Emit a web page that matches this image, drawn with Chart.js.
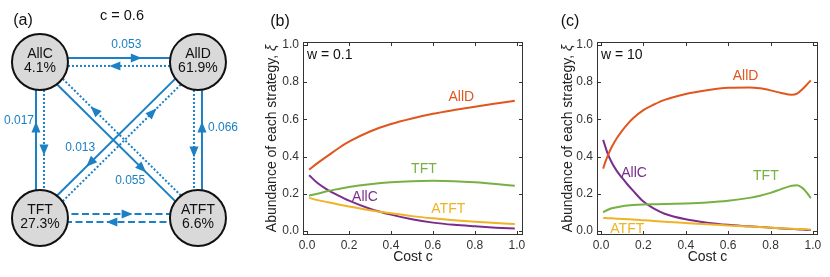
<!DOCTYPE html>
<html>
<head>
<meta charset="utf-8">
<script src="https://cdn.jsdelivr.net/npm/chart.js@4.4.1/dist/chart.umd.min.js"></script>
<style>
    body { margin: 0; width: 830px; height: 277px; background: #fff; position: relative; overflow: hidden; }
    canvas { position: absolute; top: 0; }
</style>
</head>
<body>
<canvas id="networkChart" width="240" height="277" style="left:0"></canvas>
<canvas id="weakChart" width="300" height="277" style="left:230px"></canvas>
<canvas id="strongChart" width="300" height="277" style="left:530px"></canvas>
<script>
const strategies = ['AllC', 'AllD', 'TFT', 'ATFT'];
const seriesColors = ['#7b2d8f', '#e1561f', '#77b043', '#efb326'];
const edgeColor = '#1b80c4';

// (a) stationary abundances at c = 0.6 and transition rates
const shares = ['4.1%', '61.9%', '27.3%', '6.6%'];
const rateLabels = ['0.053', '0.017', '0.066', '0.013', '0.055'];

// (b) w = 0.1
const weakCost = [0.01, 0.05, 0.1, 0.15, 0.2, 0.3, 0.4, 0.5, 0.6, 0.7, 0.8, 0.9, 0.99];
const weakAllC = [0.30, 0.258, 0.22, 0.19, 0.163, 0.12, 0.088, 0.063, 0.045, 0.033, 0.025, 0.018, 0.013];
const weakAllD = [0.33, 0.365, 0.405, 0.445, 0.48, 0.535, 0.575, 0.605, 0.63, 0.65, 0.668, 0.685, 0.70];
const weakTFT = [0.19, 0.20, 0.215, 0.226, 0.236, 0.251, 0.262, 0.268, 0.27, 0.268, 0.262, 0.253, 0.243];
const weakATFT = [0.178, 0.166, 0.155, 0.143, 0.132, 0.112, 0.095, 0.08, 0.068, 0.058, 0.05, 0.043, 0.037];

// (c) w = 10
const strongCost = [0.01, 0.02, 0.03, 0.05, 0.075, 0.1, 0.125, 0.15, 0.2, 0.25, 0.3, 0.4, 0.5, 0.6, 0.7, 0.75, 0.8, 0.85, 0.9, 0.925, 0.95, 0.97, 0.99];
const strongAllC = [0.49, 0.455, 0.42, 0.37, 0.322, 0.285, 0.25, 0.218, 0.158, 0.12, 0.093, 0.063, 0.045, 0.033, 0.025, 0.021, 0.018, 0.014, 0.011, 0.009, 0.008, 0.006, 0.005];
const strongAllD = [0.335, 0.37, 0.40, 0.45, 0.50, 0.54, 0.575, 0.605, 0.65, 0.68, 0.705, 0.737, 0.757, 0.77, 0.772, 0.767, 0.756, 0.742, 0.732, 0.738, 0.762, 0.785, 0.81];
const strongTFT = [0.10, 0.107, 0.113, 0.122, 0.128, 0.133, 0.137, 0.14, 0.143, 0.144, 0.145, 0.148, 0.153, 0.162, 0.178, 0.19, 0.205, 0.225, 0.243, 0.246, 0.232, 0.208, 0.177];
const strongATFT = [0.07, 0.07, 0.069, 0.068, 0.066, 0.065, 0.063, 0.062, 0.058, 0.054, 0.05, 0.043, 0.036, 0.03, 0.024, 0.021, 0.018, 0.015, 0.012, 0.011, 0.01, 0.009, 0.008];

const xTicks = [0, 0.2, 0.4, 0.6, 0.8, 1.0];
const yTicks = [0, 0.2, 0.4, 0.6, 0.8, 1.0];

// where the curve names sit (data units)
const weakLabelX = [0.276, 0.735, 0.557, 0.673];
const weakLabelY = [0.184, 0.722, 0.332, 0.12];
const strongLabelX = [0.156, 0.682, 0.778, 0.124];
const strongLabelY = [0.31, 0.833, 0.297, 0.011];

// network layout: grid column/row of each node, and edges between them
const nodeCol = [0, 1, 0, 1];
const nodeRow = [1, 1, 0, 0];
const nodeRadius = 28;
const edges = [
    { from: 0, to: 1, dash: 'solid', side: 1, t: 0.67, rate: 0, lx: -10, ly: -13 },
    { from: 1, to: 0, dash: 'dotted', side: 1, t: 0.54 },
    { from: 2, to: 0, dash: 'solid', side: 1, t: 0.63, rate: 1, lx: -17, ly: -6 },
    { from: 0, to: 2, dash: 'dotted', side: 1, t: 0.6 },
    { from: 3, to: 1, dash: 'solid', side: -1, t: 0.63, rate: 2, lx: 21, ly: 1 },
    { from: 1, to: 3, dash: 'dotted', side: -1, t: 0.62 },
    { from: 1, to: 2, dash: 'solid', side: -1, t: 0.72, rate: 3, lx: -10, ly: -15 },
    { from: 2, to: 1, dash: 'dotted', side: -1, t: 0.76 },
    { from: 0, to: 3, dash: 'solid', side: -1, t: 0.72, rate: 4, lx: -12, ly: 12 },
    { from: 3, to: 0, dash: 'dotted', side: -1, t: 0.73 },
    { from: 2, to: 3, dash: 'dashed', side: 1, t: 0.58 },
    { from: 3, to: 2, dash: 'dashed', side: 1, t: 0.57 }
];

Chart.defaults.font.family = "'Liberation Sans', Arial, sans-serif";
Chart.defaults.color = '#222';

const dashPatterns = { solid: [], dotted: [2, 2], dashed: [7, 3.5] };

const networkPlugin = {
    id: 'network',
    beforeDatasetsDraw(chart) {
        const { ctx, scales: { x, y } } = chart;
        const centers = nodeCol.map((c, i) => ({ x: x.getPixelForValue(c), y: y.getPixelForValue(nodeRow[i]) }));
        ctx.save();
        ctx.strokeStyle = edgeColor;
        ctx.fillStyle = edgeColor;
        ctx.lineWidth = 2;
        ctx.font = "12px 'Liberation Sans', Arial, sans-serif";
        ctx.textAlign = 'center';
        ctx.textBaseline = 'middle';
        edges.forEach(e => {
            const a = centers[e.from], b = centers[e.to];
            const len = Math.hypot(b.x - a.x, b.y - a.y);
            const ux = (b.x - a.x) / len, uy = (b.y - a.y) / len;
            const nx = uy * e.side * 4, ny = -ux * e.side * 4;
            const sx = a.x + ux * nodeRadius + nx, sy = a.y + uy * nodeRadius + ny;
            const ex = b.x - ux * nodeRadius + nx, ey = b.y - uy * nodeRadius + ny;
            ctx.setLineDash(dashPatterns[e.dash]);
            ctx.beginPath();
            ctx.moveTo(a.x + nx, a.y + ny);
            ctx.lineTo(b.x + nx, b.y + ny);
            ctx.stroke();
            ctx.setLineDash([]);
            const px = sx + (ex - sx) * e.t, py = sy + (ey - sy) * e.t;
            ctx.beginPath();
            ctx.moveTo(px + ux * 5.5, py + uy * 5.5);
            ctx.lineTo(px - ux * 5.5 - uy * 4.5, py - uy * 5.5 + ux * 4.5);
            ctx.lineTo(px - ux * 5.5 + uy * 4.5, py - uy * 5.5 - ux * 4.5);
            ctx.closePath();
            ctx.fill();
            if (e.rate !== undefined) {
                ctx.fillText(rateLabels[e.rate], px + e.lx, py + e.ly);
            }
        });
        ctx.restore();
    },
    afterDatasetsDraw(chart) {
        const { ctx, scales: { x, y } } = chart;
        ctx.save();
        ctx.fillStyle = '#111';
        ctx.textAlign = 'center';
        ctx.textBaseline = 'middle';
        ctx.font = "14px 'Liberation Sans', Arial, sans-serif";
        strategies.forEach((s, i) => {
            const cx = x.getPixelForValue(nodeCol[i]), cy = y.getPixelForValue(nodeRow[i]);
            ctx.fillText(s, cx, cy - 8);
            ctx.fillText(shares[i], cx, cy + 6);
        });
        ctx.font = "16px 'Liberation Sans', Arial, sans-serif";
        ctx.fillText('(a)', 23, 21);
        ctx.font = "14.5px 'Liberation Sans', Arial, sans-serif";
        ctx.fillText('c = 0.6', 122, 16);
        ctx.restore();
    }
};

new Chart(document.getElementById('networkChart'), {
    type: 'scatter',
    data: {
        datasets: [{
            data: nodeCol.map((c, i) => ({ x: c, y: nodeRow[i] })),
            pointRadius: nodeRadius,
            pointHoverRadius: nodeRadius,
            backgroundColor: '#d9d9d9',
            borderColor: '#111',
            borderWidth: 2
        }]
    },
    options: {
        responsive: false,
        animation: false,
        events: [],
        layout: { padding: 0, autoPadding: false },
        plugins: { legend: { display: false }, tooltip: { enabled: false } },
        scales: {
            x: { display: false, min: -0.253, max: 1.266 },
            y: { display: false, min: -0.378, max: 1.397 }
        }
    },
    plugins: [networkPlugin]
});

function makeFramePlugin(cfg) {
    return {
        id: 'frame',
        afterDatasetsDraw(chart) {
            const { ctx, chartArea: a, scales: { x, y } } = chart;
            ctx.save();
            ctx.strokeStyle = '#333';
            ctx.lineWidth = 1;
            ctx.strokeRect(a.left + 0.5, a.top + 0.5, a.width - 1, a.height - 1);
            ctx.beginPath();
            x.ticks.forEach(t => {
                const px = Math.round(x.getPixelForValue(t.value)) + 0.5;
                ctx.moveTo(px, a.bottom); ctx.lineTo(px, a.bottom - 4);
                ctx.moveTo(px, a.top); ctx.lineTo(px, a.top + 4);
            });
            y.ticks.forEach(t => {
                const py = Math.round(y.getPixelForValue(t.value)) + 0.5;
                ctx.moveTo(a.left, py); ctx.lineTo(a.left + 4, py);
                ctx.moveTo(a.right, py); ctx.lineTo(a.right - 4, py);
            });
            ctx.stroke();

            ctx.textAlign = 'center';
            ctx.textBaseline = 'middle';
            ctx.font = "14px 'Liberation Sans', Arial, sans-serif";
            strategies.forEach((s, i) => {
                ctx.fillStyle = seriesColors[i];
                ctx.fillText(s, x.getPixelForValue(cfg.labelX[i]), y.getPixelForValue(cfg.labelY[i]));
            });

            ctx.fillStyle = '#111';
            ctx.textAlign = 'left';
            ctx.fillText(cfg.weight, a.left + 4, a.top + 13);
            ctx.textAlign = 'center';
            ctx.font = "16px 'Liberation Sans', Arial, sans-serif";
            ctx.fillText(cfg.tag, cfg.tagX, 22);

            // y axis title with italic xi
            ctx.translate(cfg.titleX, (a.top + a.bottom) / 2);
            ctx.rotate(-Math.PI / 2);
            const plain = 'Abundance of each strategy, ';
            ctx.font = "14px 'Liberation Sans', Arial, sans-serif";
            const w1 = ctx.measureText(plain).width;
            ctx.font = "italic 14px 'Liberation Sans', Arial, sans-serif";
            const w2 = ctx.measureText('ξ').width;
            ctx.textAlign = 'left';
            ctx.fillStyle = '#222';
            ctx.font = "14px 'Liberation Sans', Arial, sans-serif";
            ctx.fillText(plain, -(w1 + w2) / 2, 0);
            ctx.font = "italic 14px 'Liberation Sans', Arial, sans-serif";
            ctx.fillText('ξ', -(w1 + w2) / 2 + w1, 0);
            ctx.restore();
        }
    };
}

function buildAbundanceChart(canvasId, costs, values, cfg) {
    const drawOrder = [1, 2, 3, 0];
    const datasets = drawOrder.map(i => ({
        label: strategies[i],
        data: costs.map((c, k) => ({ x: c, y: values[i][k] })),
        borderColor: seriesColors[i],
        borderWidth: 2,
        pointRadius: 0,
        cubicInterpolationMode: 'monotone',
        fill: false
    }));

    return new Chart(document.getElementById(canvasId), {
        type: 'line',
        data: { datasets: datasets },
        options: {
            responsive: false,
            animation: false,
            events: [],
            layout: { padding: { left: 0, right: cfg.rightPad, top: 42, bottom: 0 } },
            plugins: { legend: { display: false }, tooltip: { enabled: false } },
            scales: {
                x: {
                    type: 'linear',
                    min: -0.019,
                    max: cfg.xMax,
                    grid: { display: false, drawTicks: false },
                    border: { display: false },
                    afterBuildTicks: s => { s.ticks = xTicks.map(v => ({ value: v })); },
                    afterFit: s => { s.height = 42; },
                    ticks: { padding: 3, color: '#333', autoSkip: false, maxRotation: 0, font: { size: 12 }, callback: v => v.toFixed(1) },
                    title: { display: true, text: 'Cost c', color: '#222', font: { size: 14 }, padding: { top: 0, bottom: 11 } }
                },
                y: {
                    type: 'linear',
                    min: -0.0215,
                    max: 1.016,
                    grid: { display: false, drawTicks: false },
                    border: { display: false },
                    afterBuildTicks: s => { s.ticks = yTicks.map(v => ({ value: v })); },
                    afterFit: s => { s.width = cfg.axisWidth; },
                    ticks: { padding: 4, color: '#333', autoSkip: false, font: { size: 12 }, callback: v => v.toFixed(1) }
                }
            }
        },
        plugins: [makeFramePlugin(cfg)]
    });
}

buildAbundanceChart('weakChart', weakCost, [weakAllC, weakAllD, weakTFT, weakATFT], {
    labelX: weakLabelX, labelY: weakLabelY, weight: 'w = 0.1', tag: '(b)', tagX: 50,
    titleX: 42, axisWidth: 73, rightPad: 7, xMax: 1.029
});

buildAbundanceChart('strongChart', strongCost, [strongAllC, strongAllD, strongTFT, strongATFT], {
    labelX: strongLabelX, labelY: strongLabelY, weight: 'w = 10', tag: '(c)', tagX: 40,
    titleX: 38, axisWidth: 67, rightPad: 12, xMax: 1.024
});
</script>
</body>
</html>
